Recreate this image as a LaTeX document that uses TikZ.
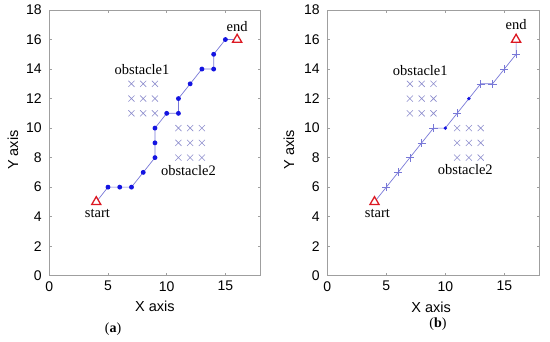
\documentclass[tikz,border=0pt]{standalone}
\usepackage{fontspec}
\setmainfont{Liberation Serif}
\newfontfamily\axisfont{Liberation Sans}
\usetikzlibrary{shapes.geometric,shapes.misc}
\definecolor{routeblue}{RGB}{120,120,215}
\definecolor{obstblue}{RGB}{140,140,205}
\definecolor{dotblue}{RGB}{20,20,225}
\definecolor{markred}{RGB}{220,25,35}
\begin{document}
\begin{tikzpicture}[x=1pt,y=1pt,
  frame/.style={draw=gray!75,line width=0.6pt},
  ticklbl/.style={font=\axisfont\fontsize{14}{16}\selectfont,inner sep=0pt},
  axlbl/.style={font=\axisfont\fontsize{14.5}{16}\selectfont,inner sep=0pt},
  txt/.style={font=\fontsize{14.5}{16}\selectfont,inner sep=0pt},
  caplbl/.style={font=\fontsize{14}{16}\selectfont,inner sep=0pt},
  route/.style={draw=routeblue,line width=0.7pt},
  dotmark/.style={circle,fill=dotblue,inner sep=0pt,minimum size=4.9pt},
  plusmark/.style={cross out,draw=routeblue,line width=0.6pt,rotate=45,inner sep=0pt,minimum size=5.2pt},
  obst/.style={cross out,draw=obstblue,line width=0.6pt,inner sep=0pt,minimum size=5.5pt},
  endmark/.style={regular polygon,regular polygon sides=3,draw=markred,line width=1.3pt,fill=white,inner sep=0pt,minimum size=10.5pt}]
  \useasboundingbox (0,0) rectangle (550,341);
  % (a)
  \begin{scope}[shift={(49.3pt,65.3pt)},x=11.74pt,y=14.76pt]
    \draw[frame] (0,0) rectangle (18,18);
    \foreach \y in {0,2,...,18} {
      \draw[frame] (0,\y) -- ++(3pt,0);
      \draw[frame] (18,\y) -- ++(-3pt,0);
      \node[ticklbl,anchor=east] at ([xshift=-7.5pt]0,\y) {\y};
    }
    \foreach \x in {0,5,10,15} {
      \draw[frame] (\x,0) -- ++(0,3pt);
      \draw[frame] (\x,18) -- ++(0,-3pt);
      \node[ticklbl] at ([yshift=-10.5pt]\x,0) {\x};
    }
    \node[axlbl] (xa) at (9,-2.08) {X axis};
    \node[axlbl,rotate=90] (ya) at (-3.09,8.5) {Y axis};
    \foreach \x in {7,8,9} \foreach \y in {11,12,13} \node[obst] at (\x,\y) {};
    \foreach \x in {11,12,13} \foreach \y in {8,9,10} \node[obst] at (\x,\y) {};
    \foreach \x/\y [count=\i] in {5/6,6/6,7/6,8/7,9/8,9/9,9/10,10/11,11/11,11/12,12/13,13/14,14/14,14/15,15/16}
      \coordinate (p\i) at (\x,\y);
    \coordinate (s) at (4,5);
    \coordinate (e) at (16,16);
    \draw[route] (s) \foreach \i in {1,...,15} {-- (p\i)} -- (e);
    \foreach \i in {1,...,15} \node[dotmark] at (p\i) {};
    \node[endmark] (start) at (s) {};
    \node[endmark] (end) at (e) {};
    \node[txt] at (7.9,14.0) {obstacle1};
    \node[txt] at (11.85,7.1) {obstacle2};
    \node[txt] at (4.1,4.2) {start};
    \node[txt] at (16.0,16.9) {end};
  \end{scope}
  \node[caplbl] (capa) at (113,12) {(\textbf{a})};
  % (b)
  \begin{scope}[shift={(327.3pt,65.3pt)},x=11.8pt,y=14.76pt]
    \draw[frame] (0,0) rectangle (18,18);
    \foreach \y in {0,2,...,18} {
      \draw[frame] (0,\y) -- ++(3pt,0);
      \draw[frame] (18,\y) -- ++(-3pt,0);
      \node[ticklbl,anchor=east] at ([xshift=-7.5pt]0,\y) {\y};
    }
    \foreach \x in {0,5,10,15} {
      \draw[frame] (\x,0) -- ++(0,3pt);
      \draw[frame] (\x,18) -- ++(0,-3pt);
      \node[ticklbl] at ([yshift=-10.5pt]\x,0) {\x};
    }
    \node[axlbl] (xb) at (8.8,-2.12) {X axis};
    \node[axlbl,rotate=90] (yb) at (-3.26,8.55) {Y axis};
    \foreach \x in {7,8,9} \foreach \y in {11,12,13} \node[obst] at (\x,\y) {};
    \foreach \x in {11,12,13} \foreach \y in {8,9,10} \node[obst] at (\x,\y) {};
    \foreach \x/\y [count=\i] in {5/6,6/7,7/8,8/9,9/10,10/10,11/11,12/12,13/13,14/13,15/14,16/15}
      \coordinate (q\i) at (\x,\y);
    \coordinate (s) at (4,5);
    \coordinate (e) at (16,16);
    \draw[route] (s) \foreach \i in {1,...,12} {-- (q\i)} -- (e);
    \foreach \i in {1,2,3,4,5,7,9,10,11,12} \node[plusmark] at (q\i) {};
    \foreach \i in {6,8} \node[dotmark,minimum size=3.8pt] at (q\i) {};
    \node[endmark] (start) at (s) {};
    \node[endmark] (end) at (e) {};
    \node[txt] at (7.88,13.9) {obstacle1};
    \node[txt] at (11.7,7.2) {obstacle2};
    \node[txt] at (4.25,4.2) {start};
    \node[txt] at (16.0,17.0) {end};
  \end{scope}
  \node[caplbl] (capb) at (438,17) {(\textbf{b})};
\end{tikzpicture}
\end{document}
